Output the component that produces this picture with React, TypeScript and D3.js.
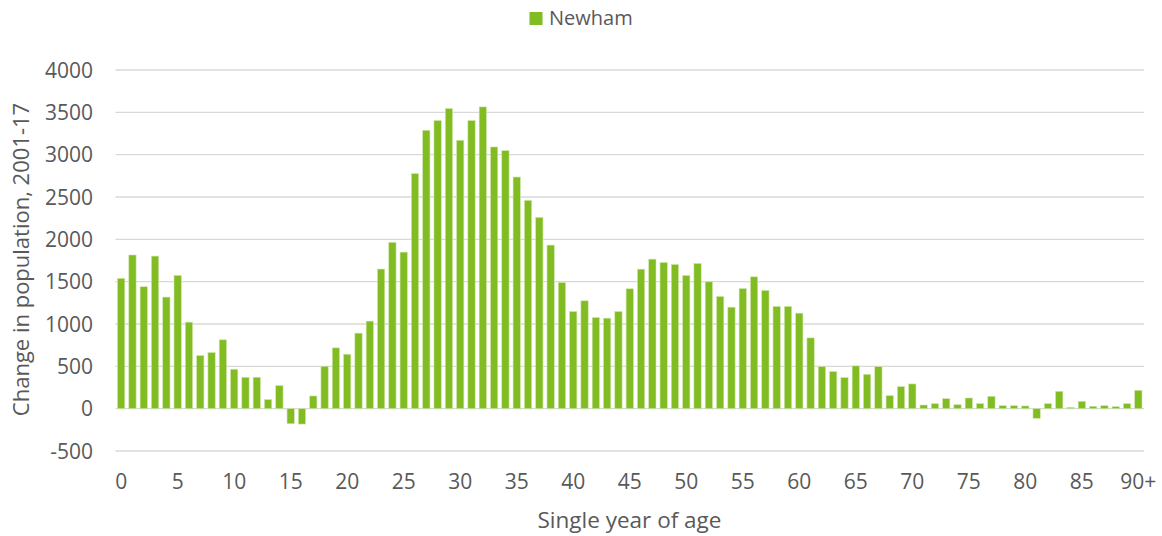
import React from "react";
import * as d3 from "d3";

const ages: string[] = [...Array.from({ length: 90 }, (_, i) => String(i)), "90+"];
const newham: number[] = [
  1539, 1815, 1440, 1802, 1318, 1574, 1022, 627, 663, 813,
  466, 371, 371, 107, 272, -178, -182, 150, 501, 718,
  643, 892, 1034, 1649, 1965, 1849, 2776, 3288, 3403, 3545,
  3170, 3403, 3564, 3091, 3048, 2736, 2460, 2259, 1932, 1490,
  1147, 1274, 1076, 1069, 1147, 1416, 1648, 1766, 1727, 1703,
  1573, 1715, 1498, 1325, 1199, 1419, 1557, 1396, 1207, 1207,
  1128, 836, 497, 438, 367, 505, 406, 497, 154, 260,
  292, 43, 59, 118, 47, 126, 59, 146, 35, 35,
  32, -114, 59, 205, 16, 87, 28, 35, 24, 59,
  217,
];
const yTicks: number[] = [-500, 0, 500, 1000, 1500, 2000, 2500, 3000, 3500, 4000];
const xTickLabels: string[] = ["0", "5", "10", "15", "20", "25", "30", "35", "40", "45", "50", "55", "60", "65", "70", "75", "80", "85", "90+"];
const seriesName = "Newham";
const yTitle = "Change in population, 2001-17";
const xTitle = "Single year of age";

const W = 1162;
const H = 536;
const left = 115.5;
const right = 1144;
const top = 70;
const bottom = 451;
const FONT = "'Open Sans', sans-serif";
const TEXT = "#595959";
const BAR = "#80BC22";

export default function App() {
  const x = d3.scaleBand<string>().domain(ages).range([left, right]).paddingInner(0.355).paddingOuter(0.1775);
  const y = d3.scaleLinear().domain([-500, 4000]).range([bottom, top]);
  const y0 = y(0);
  return (
    <svg width={W} height={H} style={{ position: "absolute", left: 0, top: 0, background: "#fff" }} fontFamily={FONT}>
      {/* legend */}
      <rect x={529.5} y={12} width={13} height={13} fill={BAR} />
      <text x={549} y={25} fontSize={20} fill={TEXT}>{seriesName}</text>
      {/* gridlines */}
      {yTicks.map((t) => (
        <line key={t} x1={left} x2={right} y1={y(t)} y2={y(t)} stroke="#d9d9d9" strokeWidth={1.3} />
      ))}
      {/* y labels */}
      {yTicks.map((t) => (
        <text key={"l" + t} x={93} y={y(t)} dy="0.36em" textAnchor="end" fontSize={21} fill={TEXT}>{t}</text>
      ))}
      {/* bars */}
      {newham.map((v, i) => {
        const yy = y(v);
        return (
          <rect
            key={i}
            x={x(ages[i])}
            width={x.bandwidth()}
            y={Math.min(yy, y0)}
            height={Math.abs(yy - y0)}
            fill={BAR}
            stroke="#cfe6aa"
            strokeWidth={0.6}
          />
        );
      })}
      {/* x labels */}
      {xTickLabels.map((l) => (
        <text key={l} x={(x(l) as number) + x.bandwidth() / 2} y={489} textAnchor="middle" fontSize={21} fill={TEXT}>{l}</text>
      ))}
      <text x={629.5} y={528} textAnchor="middle" fontSize={22.5} fill={TEXT}>{xTitle}</text>
      <text transform={`translate(29,${(top + bottom) / 2 - 1}) rotate(-90)`} textAnchor="middle" fontSize={22} fill={TEXT}>{yTitle}</text>
    </svg>
  );
}
